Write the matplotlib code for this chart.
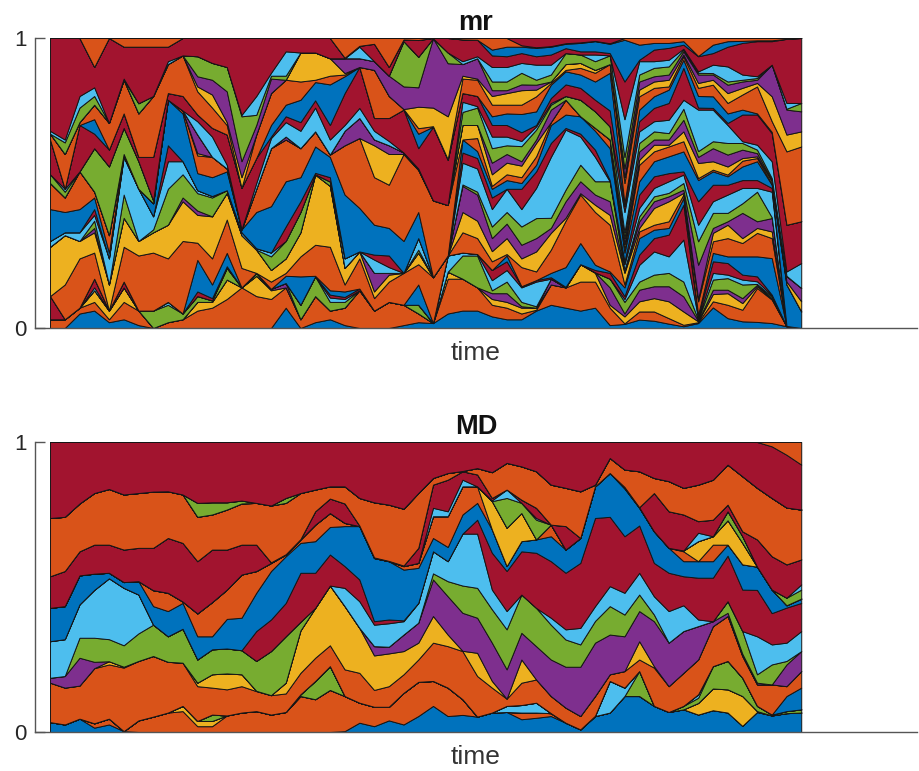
import numpy as np
import matplotlib
matplotlib.use("Agg")
import matplotlib.pyplot as plt

plt.rcParams['font.family'] = ['Liberation Sans', 'DejaVu Sans']

# colours of the stack, bottom to top
BLUE, ORANGE, YELLOW, PURPLE = '#0072BD', '#D95319', '#EDB120', '#7E2F8E'
GREEN, LIGHT, RED = '#77AC30', '#4DBEEE', '#A2142F'
cycle = [BLUE, ORANGE, YELLOW, PURPLE, GREEN, LIGHT, RED]

time_steps = np.arange(52)

# cumulative share (percent) at each time step.
# a 0 means that layer has no thickness at that step.
mr_t00 = [0,3,0,0,0,0,11, 0,0,28,0,0,30,0, 41,50,0,0,53,0,65, 0,67,0,0,0,68,100, 0,100]
mr_t01 = [0,3,0,0,0,0,3, 0,15,32,0,0,33,0, 40,45,0,0,47,48,48, 0,60,0,0,64,65,100, 0,100]
mr_t02 = [5,7,0,0,0,0,7, 0,24,30,0,0,33,0, 41,54,0,0,0,0,70, 0,71,0,0,76,80,100, 0,100]
mr_t03 = [6,9,13,0,0,14,17, 0,26,33,34.5,37,39,41, 45,47,0,0,62,0,67, 72,77,0,0,80,83,90, 0,100]
mr_t04 = [2,3,6,0,0,0,6, 0,6,15,0,0,24,0, 26,32,0,0,55.7,0,61.5, 0,70.7,0,0,0,0,100, 0,100]
mr_t05 = [3,9,14,0,0,0,16, 0,28,38,0,46,59,0, 60,0,0,0,69,0,74, 0,85.6,0,0,0,86,97, 0,100]
mr_t06 = [1,6,0,0,0,0,6, 0,25,30,0,0,48,0, 48,0,0,0,57.5,0,59, 0,74,0,0,77.5,0,97, 0,100]
mr_t07 = [0,0,0,0,6,0,6, 0,26,33,0,34,38.5,0, 43,0,0,0,44,0,59, 0,80,0,0,0,0,97, 0,100]
mr_t08 = [0,2,0,0,8,9,9, 0,24,35.6,0,48,57.5,63, 78.7,0,0,0,0,0,81, 0,91,0,0,0,92,97, 0,100]
mr_t09 = [0,3,0,0,5,0,5, 0,30,43.7,45,53,57.5,0, 74,75,0,0,0,0,80, 0,94,0,0,0,0,100, 0,100]
mr_t10 = [0,6,9,0,11,0,12.6, 23.5,29.4,39,40.5,46.5,47.5,0, 53.4,59.5,60.3,66.7,0,71.3,73.6, 0,81.6,83.3,86.8,93.7,0,100, 0,100]
mr_t11 = [0,7,9,0,9.5,0,10.3, 15,24,38.5,0,45,45.5,0, 52,59,0,0,0,66,69, 0,76,80.5,85.6,91.4,0,100, 0,100]
mr_t12 = [0,10,16.7,0,20.7,0,21.3, 25.9,37.4,46.6,0,47.5,0,0, 54,55,0,0,0,56.3,66.7, 0,70,71,81.6,90,0,100, 0,100]
mr_t13 = [0,14,0,0,0,0,14, 0,20.7,32,0,0,33,0, 34,0,0,0,0,0,48.3, 0,0,52,57.5,73,73.5,100, 0,100]
mr_t14 = [0,11,18,0,19,0,19, 0,18.5,27,0,0,27.5,0, 40,48,0,0,0,50,58.6, 0,66.7,0,70,73.5,80,100, 0,100]
mr_t15 = [0,10,13,13.5,0,0,13.5, 0,16,20,0,24.7,26,0, 42,62,0,0,0,65.5,66, 70,81,0,86,87,88,100, 0,100]
mr_t16 = [7,14,0,15.5,0,0,15.5, 18,19,24,0,30,0,35, 50.6,65,0,66,0,71,73, 77,85.6,0,0,87,95.4,100, 0,100]
mr_t17 = [0,3,0,0,8,0,8, 17.8,24.7,33,0,40,0,43.7, 52,62,0,0,0,68,71, 78.7,85,95,0,0,0,100, 0,100]
mr_t18 = [2,11,0,0,17.8,0,17.8, 18,28.7,52.9,0,53,0,53.5, 62.6,67.8,0,0,0,76,78.5, 84.8,85.6,95,0,0,0,100, 0,100]
mr_t19 = [3,6,0,0,9,10.5,11.5, 13,28,49,0,50.5,0,52, 59,59.8,0,0,0,65,70, 84,87,93,0,0,0,100, 0,100]
mr_t20 = [1,7,0,0,9,10,10.7, 12.6,15,20.7,0,0,24,0, 46,63,0,68,0,70,81, 86.8,87.4,87.9,93,0,0,93.2, 0,100]
mr_t21 = [0,13,0,0,0,0,13.6, 0,24,26.4,0,0,0,0, 41.4,65.5,0,72.4,0,75.9,90, 0,0,0,93,0,97,97.3, 0,100]
mr_t22 = [0,6,0,0,0,0,6, 0,10.3,12.6,19,0,23.6,25.3, 35.6,52,63,65,0,68,72.4, 0,89,0,92,0,0,98, 0,100]
mr_t23 = [0,9,0,0,0,0,9, 0,16,18.4,19,0,21,25, 34.5,49.4,60,63,0,64.5,72.4, 0,80,0,87,0,0,90, 0,100]
mr_t24 = [1,8,0,0,0,0,8, 0,19,0,0,0,0,0, 30,60,0,60.5,0,0,75.3, 0,75.5,0,83.3,98.9,0,99.5, 0,100]
mr_t25 = [2,5,0,0,8,0,8, 15,22,26,0,27,31,0, 40,54.5,0,55,0,0,62, 67,68.9,76.3,83,93.5,0,99.3, 0,100]
mr_t26 = [1.7,0,0,0,0,0,1.7, 0,17.5,0,0,0,0,0, 0,44,0,0,0,0,69.4, 0,69.6,76,99.9,0,0,100, 0,100]
mr_t27 = [5,17,19.4,0,0,25,25, 0,0,0,0,0,0,0, 0,42.4,0,0,0,0,58, 0,58.2,73,91.3,95,0,100, 0,100]
mr_t28 = [6,17,0,0,25,26,26, 0,33,40,49,49.5,57,60.5, 65,0,70,0,74.5,78,81, 0,86,87,91,0,92,99.5, 0,100]
mr_t29 = [6,14,0,0,25,25.5,0, 0,31,37,46,47,55,58.6, 61,65.5,70,0,76,76.5,80, 0,85.6,86,93,0,93.7,99.4, 0,100]
mr_t30 = [4,8,10,12,13,16.5,20, 0,23,26.5,31,35,41,45, 48,49,53,57,62,66,70, 73,77,80,82,85,90,94, 96,100]
mr_t31 = [3,7,9,12,16,20,23, 25,25.5,31,36,40,48,0, 51,53,57,60,63,66,70, 74,77,81,82,85,90,93.7, 97,100]
mr_t32 = [3,5,7,7.5,9,14,14.4, 0,21,24,28.7,35,41,48, 50,52,56,57.5,62.7,64.5,67.5, 73.8,77,82,84,88,91.4,94.8, 97,97.5]
mr_t33 = [6,6.3,7,0,7.5,16,16.5, 0,19.5,26.4,31,37.9,48.3,54, 56.3,59.2,63.8,65,68.4,69.5,70, 74.7,79.9,82.2,83.9,85.6,90.8,93.7, 96.6,96.8]
mr_t34 = [8,15,0,17,0,0,17.5, 19,27,32.8,34.5,38,59,63.8, 70,71,0,75.3,77,77.6,79.3, 83.9,84.5,85,0,87.4,90.8,94.3, 97,97.2]
mr_t35 = [7,14,0,0,0,0,14.2, 21,37,38,43.7,47.7,68.4,69, 73.6,78.7,0,0,80,0,84, 88.5,89,91,0,94.8,0,96.5, 98,98.2]
mr_t36 = [6,16,22,0,0,0,22, 29.3,46,46.5,50.6,56.3,66,67, 73,0,0,0,78.7,0,82.8, 87.4,89.7,91.4,0,94.3,0,95.4, 98.3,98.5]
mr_t37 = [7,16,19,19.2,0,0,20, 21.8,40,42.5,46,50.6,59,61.5, 68,69,0,0,74.7,0,78.7, 85,88,89,0,92,94.3,95.4, 98.9,99]
mr_t38 = [1,7,8,14,17,0,19, 19.5,35.6,39,43.7,50.6,0,51, 62,65,0,0,69.5,0,75, 88,91,0,0,94,0,94.8, 98,98.2]
mr_t39 = [1.4,1.6,4,5,9,10,11, 14,15,19,19.5,20,22,23, 26,27,29,31,33,40,42, 43,50,52,55,59,72,85, 99.4,100]
mr_t40 = [2.9,5.7,9.2,13.2,16,21.8,25.3, 31,33.3,34.5,36.8,38.5,41.4,46, 50.6,56.3,58,60.9,63.8,67.8,71.3, 75.3,79.9,82.2,85,87.4,92,92.5, 97.7,100]
mr_t41 = [2.5,5.7,10.3,14.4,18.4,26.4,31, 33.9,35.6,41.4,43.7,45.4,48.3,52.3, 57.5,60.9,63.2,65,67.8,71.3,75.9, 79.9,82.8,85,86.8,89.7,92,96, 98.3,100]
mr_t42 = [1.5,3.4,9.2,14.4,19,24.7,32.2, 34.5,36.8,43.7,45.4,46.6,50.6,53.4, 59.2,62.6,63.2,65,67.2,71.8,77.6, 82.2,83.3,85.6,87.4,90.2,92.5,96.6, 98.3,100]
mr_t43 = [0.6,1.1,5.7,10.9,16,30.5,42.5, 44.8,46,46.6,47.7,50,52.9,54, 60.9,64.4,67.8,71.8,75.6,78.7,89.7, 92.5,93.7,94.3,95.4,96,96.3,97.7, 98.9,100]
mr_t44 = [1.7,2,2.3,2.5,2.9,3.4,4, 4.6,9.2,10,21.8,29.9,35.6,43.7, 51,51.7,56.9,59,61,75.3,76, 80,82.8,84.5,87.4,88,88.5,93.7, 93.8,100]
mr_t45 = [7.1,9.2,11.7,13.2,16.7,19,23, 25.9,29.9,32.8,34.5,39.7,43.7,49.4, 54,54.6,57.5,62,64.4,75.3,75.9, 79.9,83.9,85.6,87.4,87.9,90.8,94.8, 97.7,100]
mr_t46 = [3.4,8,12,13.2,17.2,18.4,22.4, 24.7,31,35.6,36.8,39.7,46,49.4, 52.3,52.9,55.7,59.8,63.8,70,70.7, 74,77.6,81,83.9,85,90.2,97, 98.9,100]
mr_t47 = [2.3,6.3,8.6,10.3,15,16.7,18.4, 24.7,29.3,31,39.7,43,48.3,51, 55.7,57.7,58.6,61.5,63.8,64.4,73.6, 75.3,80.5,82.8,85,85.6,87.4,98.3, 99,100]
mr_t48 = [2.1,13.8,14.4,14.9,15.2,16.1,17.8, 24.7,32.8,34.5,36.8,47,48.3,51, 57.5,58.6,59.2,60.3,61.5,63.2,73.6, 74,83.3,84.5,85.6,86.2,86.8,98.9, 99.2,100]
mr_t49 = [1.7,9.8,10.1,10.3,10.9,11.3,11.5, 24.1,31,33.3,37.9,38.2,47,48.3, 49.4,49.7,50.6,51,51.7,57.5,67.2, 67.6,71.3,79.9,90.8,0,0,98.9, 99.2,100]
mr_t50 = [0.6,0.6,0.6,0.6,0.6,0.6,0.6, 0.7,0.7,0.7,0.7,0.7,0.7,0.7, 15,15,16,17.8,18,19.5,35.6, 0,60.9,66.7,75.3,75.6,77.6,99.7, 0,100]
mr_t51 = [0,0,0,0,0,0,0, 0,0,0,0,0,0,0, 5.7,0,9.2,13.8,0,22.4,36.8, 0,62.6,67.8,74.7,77.6,0,100, 0,100]

md_t00 = [3.4,0,0,0,0,0,0, 0,17,0,18.7,0,31.3,0, 42.8,0,0,0,0,0,53.7, 0,73.8,0,0,0,0,100]
md_t01 = [2.6,0,0,0,0,0,0, 0,15.3,0,19.3,0,32,0, 43.4,0,0,0,0,0,55.5, 0,74.2,0,0,0,0,100]
md_t02 = [4.6,0,0,0,0,0,0, 0,16,0,25.6,32.5,44,0, 54,0,0,0,0,0,62.3, 0,78.8,0,0,0,0,100]
md_t03 = [1.5,3,0,0,0,0,0, 0,22,0,24.2,32.5,49,0, 54.6,0,0,0,0,0,64.6, 0,82.4,0,0,0,0,100]
md_t04 = [2.6,4.6,0,0,0,0,0, 0,23.3,24.4,0,32,53,0, 54.9,0,0,0,0,0,64.6, 0,83.8,0,0,0,0,100]
md_t05 = [0.3,0,0,0,0,0,0, 0,22.2,22.5,0,29.9,49.7,0, 51.7,0,0,0,0,0,62.9, 0,81.9,0,0,0,0,100]
md_t06 = [0,4,0,0,0,0,0, 0,24.5,0,0,34,47.4,0, 52,0,0,0,0,0,63.5, 0,82.4,0,0,0,0,100]
md_t07 = [0,5.3,0,0,0,0,0, 0,26.2,0,0,37,0,0, 43.4,48.9,0,0,0,0,63.5, 0,82.9,0,0,0,0,100]
md_t08 = [0,6.7,0,0,0,0,0, 0,24.2,0,0,33,0,0, 41.7,48,0,0,0,0,66.9, 0,83,0,0,0,0,100]
md_t09 = [0,7.2,9,0,0,0,0, 0,23.9,0,0,35.6,0,0, 44.5,45,0,0,0,0,65.2, 0,81.9,0,0,0,0,100]
md_t10 = [0,2,3.8,0,0,0,0, 0,15.8,17,0,25,0,0, 33,40.9,0,0,0,0,58.9, 0,74.2,0,0,79,0,100]
md_t11 = [0,2,3.8,0,6,0,0, 0,15.3,19.9,0,28.5,0,0, 33,44.8,0,0,0,0,62.9, 0,75,0,0,79.2,0,100]
md_t12 = [0,5.7,0,0,0,0,0, 0,14.7,20.2,0,28.8,0,0, 39,49.1,0,0,0,0,62.9, 0,76.7,0,0,79.2,0,100]
md_t13 = [0,6.7,0,0,0,0,0, 0,15.8,19.9,0,28.2,0,0, 39.4,54.3,0,0,0,0,64.6, 0,78.8,0,0,79.8,0,100]
md_t14 = [0,7.2,0,0,0,0,0, 0,14.1,14.2,0,24.5,0,34.8, 48,55.5,0,0,0,0,64.6, 0,79,0,0,0,0,100]
md_t15 = [0,6,0,0,0,0,0, 0,12.7,0,0,27.9,0,38.8, 55.5,58.3,0,0,0,0,58.5, 0,78.1,0,0,0,0,100]
md_t16 = [0,6.9,0,0,0,0,0, 0,13.3,17,0,33,0,44.5, 60.6,61.2,0,0,0,0,61.3, 0,79,0,0,80.7,0,100]
md_t17 = [0,12.4,0,0,13,0,0, 0,20.4,35,0,38,0,54.9, 65.2,66.4,0,0,0,0,66.5, 0,82.4,0,0,0,0,100]
md_t18 = [0,11.3,0,0,17.6,0,0, 0,25.6,42.8,0,0,0,54.9, 65.8,71.5,0,0,0,0,76.1, 0,83.6,0,0,0,0,100]
md_t19 = [0,14.5,0,0,22.7,0,0, 0,29.9,50.5,0,0,0,61.2, 70.7,75.5,0,0,0,0,80.5, 0,84.7,0,0,0,0,100]
md_t20 = [0.3,12.4,0,0,0,0,0, 0,21.6,43.4,0,0,49.7,57.2, 71,72.1,0,0,0,0,78.8, 0,84.7,0,0,0,0,100]
md_t21 = [3.2,10.1,0,0,0,0,0, 0,20.4,35.9,0,0,45.1,52.6, 71,0,0,0,0,0,71.2, 0,80.7,0,0,0,0,100]
md_t22 = [2,8.7,0,0,0,0,0, 0,14.5,26.4,29.6,0,37,38.2, 60,0,0,0,0,0,60.2, 0,79.2,0,0,0,0,100]
md_t23 = [4,8.7,0,0,0,0,0, 0,15.8,27.1,29.4,0,37.5,38.8, 58.9,0,0,0,0,0,59, 0,78.4,0,0,0,0,100]
md_t24 = [2.6,13.5,0,0,0,0,0, 0,19.9,27.9,33.6,0,38.2,38.5, 56,57.2,0,0,0,0,57.4, 0,77,0,0,0,0,100]
md_t25 = [5.5,17.3,0,0,0,0,0, 0,25,30.8,37.7,0,44.5,0, 56.6,58.3,0,0,0,0,63.5, 0,82.4,0,0,0,0,100]
md_t26 = [9,17.6,0,0,0,0,0, 0,30.8,40,52.6,54.7,62.3,0, 66.9,74.4,0,0,0,77.3,85.3, 0,87.6,0,0,0,0,100]
md_t27 = [5.5,15.3,0,0,0,0,0, 0,29.6,33.6,46.8,52,58.9,0, 63.8,74.4,0,0,0,76.1,87, 0,89.3,0,0,0,0,100]
md_t28 = [5.9,11.3,0,0,0,0,0, 0,27.9,28,41.1,50.5,68.4,0, 75,84.7,0,0,0,87,89.9, 0,90,0,0,0,0,100]
md_t29 = [5.3,0,0,0,0,0,0, 0,19.3,27.3,39.4,49.7,68.4,73.2, 79,84.7,0,0,0,0,88.8, 0,91,0,0,0,0,100]
md_t30 = [6.7,0,0,0,0,0,0, 0,15.3,17.6,30.8,42.3,49.1,61.8, 69.8,0,79.6,0,0,79.9,80.7, 0,89.6,0,0,0,0,100]
md_t31 = [6.9,0,0,0,0,9,0, 0,11.5,0,21.6,35.4,41.7,55.5, 57.2,0,70.4,0,80.7,83.6,0, 0,92.8,0,0,0,0,100]
md_t32 = [4.4,6.7,0,0,0,9.3,0, 0,17,25,34.2,47.4,0,62.3, 65.8,0,75.5,0,79,0,80.1, 0,91.6,0,0,0,0,100]
md_t33 = [4.9,6.7,0,0,0,10.1,0, 0,18.1,0,29.6,42.8,0,61.8, 66.4,0,0,0,73.2,73.8,77.3, 0,89.9,0,0,0,0,100]
md_t34 = [5.5,6.5,0,0,0,0,0, 0,12.4,0,25,37,39.4,58.9, 67.5,71.5,0,0,0,0,0, 0,85.3,0,0,0,0,100]
md_t35 = [3.2,0,0,0,0,0,0, 0,8.4,0,22.5,31.9,35.4,54.9, 62.9,0,0,0,0,0,71, 0,84.2,0,0,0,0,100]
md_t36 = [0.9,0,0,0,0,0,0, 0,5.5,0,22.5,30.2,35.9,58.3, 66.9,0,0,0,0,0,0, 0,83,0,0,0,0,100]
md_t37 = [5.5,0,0,0,0,5.6,0, 0,12.4,0,30.8,38.3,43.4,73.8, 84.7,0,0,0,0,0,0, 0,85.3,0,0,0,0,100]
md_t38 = [6.7,0,0,0,0,17.6,0, 0,19.9,0,33.6,43.4,50.3,74.2, 89.3,0,0,0,0,0,0, 0,94.5,0,0,0,0,100]
md_t39 = [12.4,0,0,0,0,15.3,0, 0,21,0,33,40.5,48,67.5, 84,0,84.5,0,0,0,0, 0,90.5,0,0,0,0,100]
md_t40 = [12.4,0,0,0,21,0,0, 0,25,31.3,41.7,47.4,54.9,71.2, 77.3,0,77.5,0,0,0,0, 0,89.9,0,0,0,0,100]
md_t41 = [9,0,0,0,0,0,0, 0,22.2,22.7,38.2,40.5,46.8,58.3, 69.2,0,0,0,0,0,82.4, 0,87.6,0,0,0,0,100]
md_t42 = [6.9,0,0,0,0,0,0, 0,15.8,0,30.8,0,41.7,54.9, 63.5,0,0,0,0,0,76.1, 0,86.5,0,0,0,0,100]
md_t43 = [7.8,0,0,0,9,0,0, 0,20.4,0,34.8,0,43.7,53.7, 58.9,62.3,62.6,0,0,0,75, 0,84.2,0,0,0,0,100]
md_t44 = [6,0,10,0,11.8,13,0, 0,25,0,36.5,0,38.8,53.2, 58.9,0,65.8,0,0,68.7,72.7, 0,85.3,0,0,0,0,100]
md_t45 = [7.5,0,15,0,22.7,0,0, 0,36.5,0,38.2,0,0,53.2, 58.9,64.6,67.5,0,0,0,73.2, 0,87,0,0,0,0,100]
md_t46 = [6.7,0,14.7,0,24.5,0,0, 0,40,0,41.1,45.1,0,60.8, 64.6,0,73,0,76.1,0,78.4, 0,92.2,0,0,0,0,100]
md_t47 = [2.1,0,12.4,0,18.7,0,0, 0,26.2,0,27,34.8,0,49.1, 57.8,0,65.2,0,67.5,0,69.2, 0,88.2,0,0,0,0,100]
md_t48 = [6.9,0,7.2,0,9,0,0, 0,16.4,0,17,19.9,33,49, 57,0,0,0,0,0,66.4, 0,84.2,0,0,0,0,100]
md_t49 = [5.7,0,0,0,6,0,0, 0,16.4,0,0,23.3,30.2,41, 49.1,0,0,0,0,0,60.6, 0,80.7,0,0,0,0,98.5]
md_t50 = [6.5,0,0,0,7.2,0,0, 12.4,15.8,0,23.3,24.5,30.8,42.9, 43.7,0,0,0,46.3,0,57.8, 0,77.4,0,0,0,0,95.6]
md_t51 = [6.7,0,0,0,7.8,0,0, 15.3,21,0,27.9,0,34.8,44.5, 46,0,0,0,49.1,50.9,59.5, 0,76.7,0,0,0,0,92.2]

mr_steps = [mr_t00, mr_t01, mr_t02, mr_t03, mr_t04, mr_t05, mr_t06, mr_t07, mr_t08, mr_t09,
            mr_t10, mr_t11, mr_t12, mr_t13, mr_t14, mr_t15, mr_t16, mr_t17, mr_t18, mr_t19,
            mr_t20, mr_t21, mr_t22, mr_t23, mr_t24, mr_t25, mr_t26, mr_t27, mr_t28, mr_t29,
            mr_t30, mr_t31, mr_t32, mr_t33, mr_t34, mr_t35, mr_t36, mr_t37, mr_t38, mr_t39,
            mr_t40, mr_t41, mr_t42, mr_t43, mr_t44, mr_t45, mr_t46, mr_t47, mr_t48, mr_t49,
            mr_t50, mr_t51]
md_steps = [md_t00, md_t01, md_t02, md_t03, md_t04, md_t05, md_t06, md_t07, md_t08, md_t09,
            md_t10, md_t11, md_t12, md_t13, md_t14, md_t15, md_t16, md_t17, md_t18, md_t19,
            md_t20, md_t21, md_t22, md_t23, md_t24, md_t25, md_t26, md_t27, md_t28, md_t29,
            md_t30, md_t31, md_t32, md_t33, md_t34, md_t35, md_t36, md_t37, md_t38, md_t39,
            md_t40, md_t41, md_t42, md_t43, md_t44, md_t45, md_t46, md_t47, md_t48, md_t49,
            md_t50, md_t51]

# the top layer of each panel fills up to 1
mr_colors = cycle * 4 + [BLUE, ORANGE, RED]
md_colors = cycle * 4 + [ORANGE]


def draw_panel(ax, title, steps, colors):
    tops = np.array(steps, dtype=float).T / 100
    tops = np.maximum.accumulate(tops, axis=0)
    tops = np.vstack([tops, np.ones(len(time_steps))])
    shares = np.diff(tops, axis=0, prepend=0)
    ax.stackplot(time_steps, shares, colors=colors, edgecolor='#151515', linewidth=0.7)

    ax.set_xlim(-1.02, 58.86)
    ax.set_ylim(0, 1)
    ax.set_xticks([])
    ax.set_yticks([0, 1])
    ax.tick_params(axis='y', direction='in', length=7.5, width=1, color='#555555',
                   labelsize=16, pad=6, labelcolor='#262626')
    for side in ['top', 'right']:
        ax.spines[side].set_visible(False)
    for side in ['left', 'bottom']:
        ax.spines[side].set_color('#555555')
        ax.spines[side].set_linewidth(1)
    ax.set_title(title, fontsize=19.5, fontweight='bold', pad=6, color='#111111')
    ax.set_xlabel("time", fontsize=19, labelpad=9, color='#333333')


fig = plt.figure(figsize=(9.2, 7.71), dpi=100)
ax_mr = fig.add_axes([35 / 920, (771 - 328) / 771, 882 / 920, 290 / 771])
ax_md = fig.add_axes([35 / 920, (771 - 732) / 771, 882 / 920, 290 / 771])

draw_panel(ax_mr, "mr", mr_steps, mr_colors)
draw_panel(ax_md, "MD", md_steps, md_colors)

fig.savefig("out.png", dpi=100)
